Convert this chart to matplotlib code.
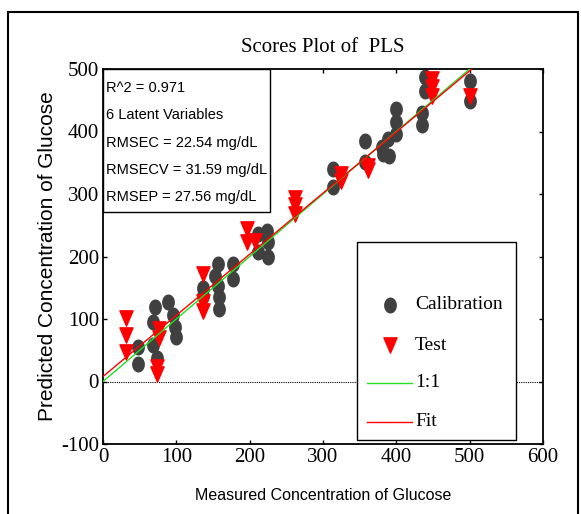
import matplotlib
matplotlib.use('Agg')
import matplotlib.pyplot as plt
from matplotlib.path import Path
from matplotlib.patches import Rectangle
from matplotlib.lines import Line2D
import numpy as np

# ── Data ─────────────────────────────────────────────────────────────────────
cal_x = [48, 48, 71, 68, 68, 74, 89, 95, 98, 100, 137, 137,
         157, 153, 157, 158, 158, 177, 177, 211, 211, 224, 225, 225,
         314, 314, 357, 357, 380, 382, 389, 390, 400, 400, 400,
         435, 435, 439, 439, 501, 501]
cal_y = [55, 28, 119, 95, 59, 38, 128, 107, 88, 72, 150, 137,
         188, 169, 153, 135, 116, 188, 164, 236, 207, 241, 223, 199,
         340, 311, 385, 351, 375, 364, 388, 361, 436, 416, 396,
         430, 410, 488, 465, 481, 449]

test_x = [31, 31, 31, 74, 74, 77, 77, 137, 137, 137, 196, 196, 207,
          262, 262, 262, 324, 324, 361, 361, 448, 448, 448, 501]
test_y = [101, 75, 47, 24, 12, 84, 70, 172, 127, 113, 244, 223, 225,
          293, 282, 268, 332, 321, 345, 338, 484, 472, 457, 457]

fit_intercept = 8.0
fit_slope = 0.978
fit_xmax = 505

stats_lines = ["R^2 = 0.971", "6 Latent Variables", "RMSEC = 22.54 mg/dL",
               "RMSECV = 31.59 mg/dL", "RMSEP = 27.56 mg/dL"]
legend_labels = ["Calibration", "Test", "1:1", "Fit"]

x_ticks = [0, 100, 200, 300, 400, 500, 600]
y_ticks = [-100, 0, 100, 200, 300, 400, 500]

# ── Styling ─────────────────────────────────────────────────────────────────
SERIF = 'Liberation Serif'
SANS = 'Liberation Sans'
CAL_COLOR = '#404040'
TEST_COLOR = '#ff0000'
GREEN = '#22e022'
CAL_MS = 10.5
TEST_MS = 11
plt.rcParams['axes.unicode_minus'] = False

t = np.linspace(0, 2 * np.pi, 40)
ellipse = Path(np.column_stack([0.78 * np.cos(t), np.sin(t)]), closed=True)
tri_down = Path([(-0.43, 0.5), (0.43, 0.5), (0, -0.5), (-0.43, 0.5)], closed=True)

fig = plt.figure(figsize=(5.81, 5.14), dpi=100)
ax = fig.add_axes([103 / 581, 1 - 444 / 514, 440 / 581, 375 / 514])

# outer frame around the figure
fig.patches.append(Rectangle((8 / 581, -0.1), 570 / 581, 1 - 12 / 514 + 0.1,
                             transform=fig.transFigure, fill=False,
                             edgecolor='black', linewidth=1.5))

ax.axhline(0, color='black', linestyle=(0, (1, 1)), linewidth=0.8, zorder=1)

ax.plot(cal_x, cal_y, linestyle='none', marker=ellipse, markersize=CAL_MS,
        color=CAL_COLOR, zorder=2)
ax.plot(test_x, test_y, linestyle='none', marker=tri_down, markersize=TEST_MS,
        color=TEST_COLOR, zorder=3)

ax.plot([0, 500], [0, 500], color=GREEN, linewidth=1.0, zorder=4)
fx = np.array([0, fit_xmax])
ax.plot(fx, fit_intercept + fit_slope * fx, color=TEST_COLOR, linewidth=1.0, zorder=5)

ax.set_xlim(0, 600)
ax.set_ylim(-100, 500)
ax.set_xticks(x_ticks)
ax.set_yticks(y_ticks)
ax.tick_params(direction='in', length=3, width=1, top=True, right=True,
               labelsize=15, pad=3)
for lab in ax.get_xticklabels() + ax.get_yticklabels():
    lab.set_family(SERIF)
for sp in ax.spines.values():
    sp.set_linewidth(1.3)

ax.set_title("Scores Plot of  PLS", family=SERIF, fontsize=15, pad=12)
ax.set_xlabel("Measured Concentration of Glucose", family=SANS, fontsize=11.5, labelpad=15)
ax.set_ylabel("Predicted Concentration of Glucose", family=SANS, fontsize=15, labelpad=3)

# stats box in the top-left corner
ax.add_patch(Rectangle((0, 0.619), 0.380, 0.381, transform=ax.transAxes,
                       facecolor='white', edgecolor='black', linewidth=1.0, zorder=6))
line_py = [88, 115, 143, 170, 197]
for txt, py in zip(stats_lines, line_py):
    ax.text(0.007, (444 - py) / 375, txt, transform=ax.transAxes, family=SANS,
            fontsize=10.5, va='center', ha='left', zorder=7)

# legend box
ax.add_patch(Rectangle((0.577, 0.011), 0.362, 0.528, transform=ax.transAxes,
                       facecolor='white', edgecolor='black', linewidth=1.0, zorder=6))
row_y = [0.371, 0.264, 0.163, 0.059]
handles = [
    dict(marker=ellipse, markersize=CAL_MS, color=CAL_COLOR, line=False),
    dict(marker=tri_down, markersize=TEST_MS, color=TEST_COLOR, line=False),
    dict(color=GREEN, line=True),
    dict(color=TEST_COLOR, line=True),
]
for h, lab, yy in zip(handles, legend_labels, row_y):
    if h['line']:
        ax.add_line(Line2D([0.600, 0.702], [yy, yy], transform=ax.transAxes,
                           color=h['color'], linewidth=1.0, zorder=7))
    else:
        ax.add_line(Line2D([0.652], [yy], transform=ax.transAxes, linestyle='none',
                           marker=h['marker'], markersize=h['markersize'],
                           color=h['color'], zorder=7))
    ax.text(0.709, yy, lab, transform=ax.transAxes, family=SERIF, fontsize=14,
            va='center', ha='left', zorder=7)

fig.savefig('out.png', dpi=100)
